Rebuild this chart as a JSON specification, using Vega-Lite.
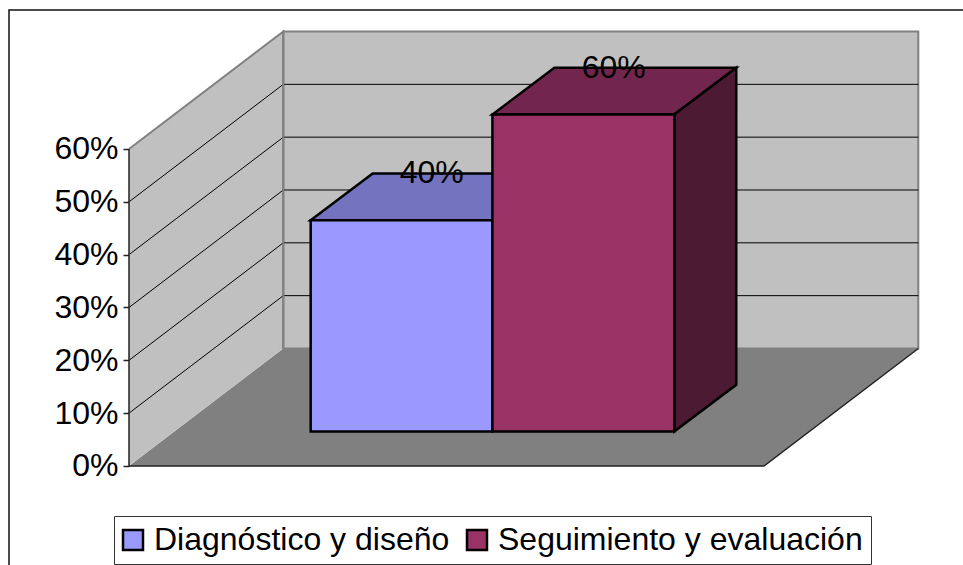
{
  "$schema": "https://vega.github.io/schema/vega-lite/v6.json",
  "width": 954,
  "height": 555,
  "autosize": "none",
  "padding": {"left": 9, "top": 10, "right": 0, "bottom": 0},
  "background": "white",
  "config": {"view": {"stroke": null}, "font": "Liberation Sans"},
  "datasets": {
    "suelo": [
      {"y": 0, "x": 0, "x2": 1},
      {"y": 0.2224, "x": 0.243, "x2": 1.243}
    ],
    "paredLateral": [
      {"x": 0, "y": 0, "y2": 0.6},
      {"x": 0.243, "y": 0.2224, "y2": 0.8224}
    ],
    "paredFondo": [
      {"x": 0.243, "y": 0.2224, "y2": 0.8224},
      {"x": 1.243, "y": 0.2224, "y2": 0.8224}
    ],
    "rejilla": [
      {"nivel": 0.1, "orden": 1, "x": 0, "y": 0.1},
      {"nivel": 0.1, "orden": 2, "x": 0.243, "y": 0.3224},
      {"nivel": 0.1, "orden": 3, "x": 1.243, "y": 0.3224},
      {"nivel": 0.2, "orden": 1, "x": 0, "y": 0.2},
      {"nivel": 0.2, "orden": 2, "x": 0.243, "y": 0.4224},
      {"nivel": 0.2, "orden": 3, "x": 1.243, "y": 0.4224},
      {"nivel": 0.3, "orden": 1, "x": 0, "y": 0.3},
      {"nivel": 0.3, "orden": 2, "x": 0.243, "y": 0.5224},
      {"nivel": 0.3, "orden": 3, "x": 1.243, "y": 0.5224},
      {"nivel": 0.4, "orden": 1, "x": 0, "y": 0.4},
      {"nivel": 0.4, "orden": 2, "x": 0.243, "y": 0.6224},
      {"nivel": 0.4, "orden": 3, "x": 1.243, "y": 0.6224},
      {"nivel": 0.5, "orden": 1, "x": 0, "y": 0.5},
      {"nivel": 0.5, "orden": 2, "x": 0.243, "y": 0.7224},
      {"nivel": 0.5, "orden": 3, "x": 1.243, "y": 0.7224}
    ],
    "aristaPared": [
      {"orden": 1, "x": 0, "y": 0.6},
      {"orden": 2, "x": 0.243, "y": 0.8224},
      {"orden": 3, "x": 0.243, "y": 0.2224}
    ],
    "ejes": [
      {"orden": 1, "x": 0, "y": 0.6},
      {"orden": 2, "x": 0, "y": 0},
      {"orden": 3, "x": 1, "y": 0},
      {"orden": 4, "x": 1.243, "y": 0.2224}
    ],
    "marco": [
      {"orden": 1, "x": -0.18898, "y": -0.18744},
      {"orden": 2, "x": -0.18898, "y": 0.8631},
      {"orden": 3, "x": 1.31339, "y": 0.8631}
    ],
    "tapaDiagnostico": [
      {"y": 0.4653, "x": 0.2861, "x2": 0.5723},
      {"y": 0.5537, "x": 0.3837, "x2": 0.6699}
    ],
    "tapaSeguimiento": [
      {"y": 0.6653, "x": 0.5723, "x2": 0.8587},
      {"y": 0.7537, "x": 0.6699, "x2": 0.9563}
    ],
    "lateralSeguimiento": [
      {"x": 0.8587, "y": 0.0653, "y2": 0.6653},
      {"x": 0.9563, "y": 0.1537, "y2": 0.7537}
    ],
    "frentes": [
      {"serie": "Diagnóstico y diseño", "x": 0.2861, "x2": 0.5723, "y": 0.0653, "y2": 0.4653},
      {"serie": "Seguimiento y evaluación", "x": 0.5723, "x2": 0.8587, "y": 0.0653, "y2": 0.6653}
    ],
    "etiquetas": [
      {"valor": 0.4, "x": 0.4767, "y": 0.5537},
      {"valor": 0.6, "x": 0.7633, "y": 0.7537}
    ]
  },
  "data": {"name": "frentes"},
  "encoding": {
    "x": {
      "field": "x",
      "type": "quantitative",
      "axis": null,
      "scale": {"domain": [-0.18898, 1.31339], "nice": false, "zero": false}
    },
    "y": {
      "field": "y",
      "type": "quantitative",
      "scale": {"domain": [-0.18744, 0.8631], "nice": false, "zero": false},
      "axis": {
        "title": null,
        "values": [0, 0.1, 0.2, 0.3, 0.4, 0.5, 0.6],
        "format": ".0%",
        "offset": -120,
        "grid": false,
        "domain": false,
        "tickColor": "#222222",
        "tickSize": 6,
        "tickWidth": 1.5,
        "labelPadding": 5,
        "labelFontSize": 32,
        "labelColor": "black",
        "labelFont": "Liberation Sans",
        "labelBaseline": "middle"
      }
    }
  },
  "layer": [
    {
      "data": {"name": "suelo"},
      "mark": {"type": "area", "orient": "horizontal", "color": "#808080"},
      "encoding": {"x2": {"field": "x2"}}
    },
    {
      "data": {"name": "paredLateral"},
      "mark": {"type": "area", "orient": "vertical", "color": "#C0C0C0"},
      "encoding": {"y2": {"field": "y2"}}
    },
    {
      "data": {"name": "paredFondo"},
      "mark": {"type": "area", "orient": "vertical", "color": "#C0C0C0", "stroke": "#808080", "strokeWidth": 2},
      "encoding": {"y2": {"field": "y2"}}
    },
    {
      "data": {"name": "rejilla"},
      "mark": {"type": "line", "color": "black", "strokeWidth": 1},
      "encoding": {"detail": {"field": "nivel"}, "order": {"field": "orden"}}
    },
    {
      "data": {"name": "aristaPared"},
      "mark": {"type": "line", "color": "#808080", "strokeWidth": 2},
      "encoding": {"order": {"field": "orden"}}
    },
    {
      "data": {"name": "ejes"},
      "mark": {"type": "line", "color": "#222222", "strokeWidth": 1.5},
      "encoding": {"order": {"field": "orden"}}
    },
    {
      "data": {"name": "marco"},
      "mark": {"type": "line", "color": "#111111", "strokeWidth": 1.5},
      "encoding": {"order": {"field": "orden"}}
    },
    {
      "data": {"name": "tapaDiagnostico"},
      "mark": {"type": "area", "orient": "horizontal", "color": "#7373BF", "stroke": "black", "strokeWidth": 2.5},
      "encoding": {"x2": {"field": "x2"}}
    },
    {
      "data": {"name": "tapaSeguimiento"},
      "mark": {"type": "area", "orient": "horizontal", "color": "#73264D", "stroke": "black", "strokeWidth": 2.5},
      "encoding": {"x2": {"field": "x2"}}
    },
    {
      "data": {"name": "lateralSeguimiento"},
      "mark": {"type": "area", "orient": "vertical", "color": "#4D1A33", "stroke": "black", "strokeWidth": 2.5},
      "encoding": {"y2": {"field": "y2"}}
    },
    {
      "mark": {"type": "rect", "stroke": "black", "strokeWidth": 2.5},
      "encoding": {
        "x2": {"field": "x2"},
        "y2": {"field": "y2"},
        "fill": {
          "field": "serie",
          "type": "nominal",
          "scale": {
            "domain": ["Diagnóstico y diseño", "Seguimiento y evaluación"],
            "range": ["#9999FF", "#993366"]
          },
          "legend": {
            "title": null,
            "orient": "none",
            "legendX": 105,
            "legendY": 506,
            "direction": "horizontal",
            "columns": 2,
            "columnPadding": 12,
            "padding": 8,
            "fillColor": "white",
            "strokeColor": "#333333",
            "symbolType": "square",
            "symbolSize": 400,
            "symbolOffset": -5,
            "symbolStrokeColor": "black",
            "symbolStrokeWidth": 2.5,
            "labelFontSize": 32,
            "labelFont": "Liberation Sans",
            "labelColor": "black",
            "labelOffset": 5,
            "labelLimit": 500
          }
        }
      }
    },
    {
      "data": {"name": "etiquetas"},
      "mark": {"type": "text", "font": "Liberation Sans", "fontSize": 32, "color": "black", "align": "center", "baseline": "middle"},
      "encoding": {"text": {"field": "valor", "type": "quantitative", "format": ".0%"}}
    }
  ]
}
